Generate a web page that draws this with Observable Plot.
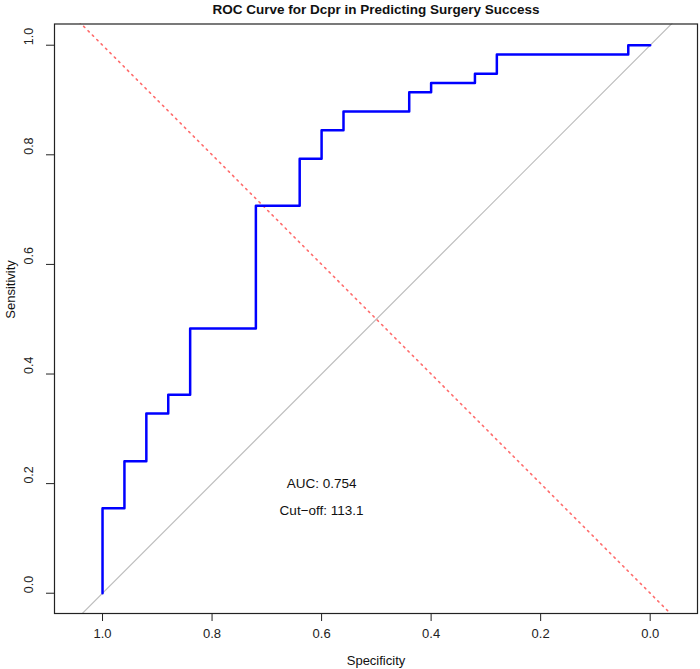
<!DOCTYPE html>
<html>
<head>
<meta charset="utf-8">
<script src="https://cdn.jsdelivr.net/npm/d3@7"></script>
<script src="https://cdn.jsdelivr.net/npm/@observablehq/plot@0.6"></script>
<style>
  html, body { margin: 0; padding: 0; background: #fff; }
  #chart svg { display: block; }
</style>
</head>
<body>
<div id="chart"></div>
<script>
// ROC curve corner points (specificity decreasing, sensitivity rising)
const specificity = [1.00, 0.96, 0.92, 0.88, 0.84, 0.72, 0.64, 0.60, 0.56, 0.44, 0.40, 0.32, 0.28, 0.04, 0.00];
const sensitivity = [0.000, 0.155, 0.241, 0.328, 0.362, 0.483, 0.707, 0.793, 0.845, 0.879, 0.914, 0.931, 0.948, 0.983, 1.000];

const aucValue = 0.754;
const cutoffValue = 113.1;

const axisTicks = [0, 0.2, 0.4, 0.6, 0.8, 1.0];

const titleText = "ROC Curve for Dcpr in Predicting Surgery Success";
const xLabel = "Specificity";
const yLabel = "Sensitivity";

// Reference lines: chance diagonal and the sensitivity = specificity line
const chanceLine = [{spec: 1.2, sens: -0.2}, {spec: -0.2, sens: 1.2}];
const equalLine = [{spec: -0.2, sens: -0.2}, {spec: 1.2, sens: 1.2}];

const roc = specificity.map((s, i) => ({spec: s, sens: sensitivity[i]}));
const annotations = [
  {spec: 0.6, sens: 0.2, label: `AUC: ${aucValue.toFixed(3)}`},
  {spec: 0.6, sens: 0.15, label: `Cut\u2212off: ${cutoffValue.toFixed(1)}`}
];

const fmt = d3.format(".1f");

const chart = Plot.plot({
  width: 700,
  height: 669,
  marginLeft: 54,
  marginRight: 3,
  marginTop: 23.5,
  marginBottom: 56,
  style: {
    fontFamily: "'Liberation Sans', Arial, Helvetica, sans-serif",
    fontSize: "13px",
    color: "#000",
    background: "#fff",
    overflow: "visible"
  },
  x: {domain: [1.0877, -0.0864], label: null},
  y: {domain: [-0.037, 1.0387], label: null},
  marks: [
    Plot.line(chanceLine, {x: "spec", y: "sens", stroke: "#bebebe", strokeWidth: 1.2, clip: "frame"}),
    Plot.line(equalLine, {x: "spec", y: "sens", stroke: "#ff6b6b", strokeWidth: 1.6, strokeDasharray: "1.6,4.6", clip: "frame"}),
    Plot.line(roc, {x: "spec", y: "sens", curve: "step-before", stroke: "#0000ff", strokeWidth: 2.5}),
    Plot.text(annotations, {x: "spec", y: "sens", text: "label", fontSize: 13.5, fill: "#111"}),
    Plot.frame({stroke: "#222", strokeWidth: 1.2}),
    Plot.axisX({ticks: axisTicks, tickFormat: fmt, tickSize: 8, tickPadding: 7, label: null, fontSize: 13, stroke: "#222", fill: "#222"}),
    // y ticks from the axis; labels drawn rotated alongside each tick
    Plot.axisY({ticks: axisTicks, tickFormat: () => "", tickSize: 8, label: null, stroke: "#222"}),
    Plot.text(axisTicks, {y: (d) => d, text: (d) => fmt(d), frameAnchor: "left", lineAnchor: "middle", dx: -26, rotate: -90, fontSize: 12.5, fill: "#222"}),
    Plot.text([titleText], {frameAnchor: "top", lineAnchor: "middle", dy: -14, fontWeight: "bold", fontSize: 13.5, fill: "#111"}),
    Plot.text([xLabel], {frameAnchor: "bottom", lineAnchor: "middle", dy: 47, fontSize: 13, fill: "#111"}),
    Plot.text([yLabel], {frameAnchor: "left", lineAnchor: "middle", dx: -44, rotate: -90, fontSize: 13, fill: "#111"})
  ]
});

document.getElementById("chart").appendChild(chart);
</script>
</body>
</html>
